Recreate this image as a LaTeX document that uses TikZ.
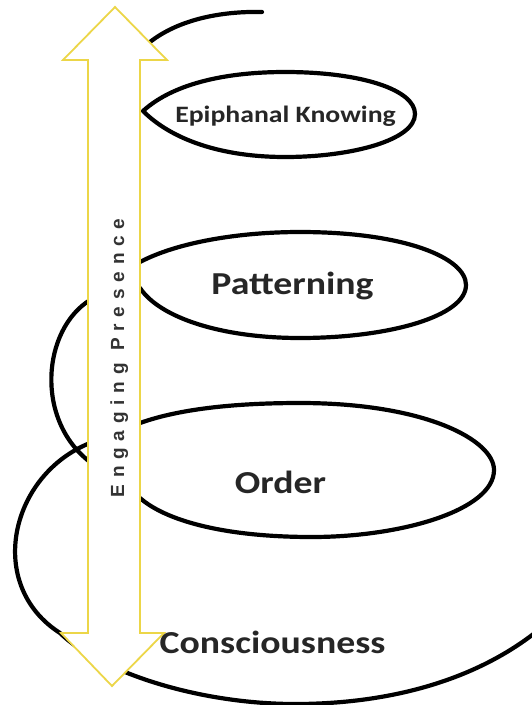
\documentclass[tikz,border=0pt]{standalone}
\usepackage{fontspec}
\newfontfamily\labfont[FakeStretch=1.18]{Carlito}
\newfontfamily\arrfont[LetterSpace=36]{Liberation Sans}
\definecolor{arrowyellow}{RGB}{236,214,72}
\tikzset{
  spiral/.style={draw=black,line width=4.2pt,line cap=round},
  bigarrow/.style={draw=arrowyellow,fill=white,line width=1.8pt,line join=miter},
  biglabel/.style={anchor=base,inner sep=0pt,font=\labfont\bfseries\fontsize{32}{32}\selectfont,text=black!85},
  smalllabel/.style={anchor=base,inner sep=0pt,font=\labfont\bfseries\fontsize{23.5}{23.5}\selectfont,text=black!85},
  arrowlabel/.style={anchor=base,inner sep=0pt,rotate=90,font=\arrfont\bfseries\fontsize{19}{19}\selectfont,text=black!80}
}
\begin{document}
\begin{tikzpicture}[x=1pt,y=-1pt]
\useasboundingbox (0,0) rectangle (531,705);
% top arc
\draw[spiral] (150,42) .. controls (178,20) and (220,11) .. (262,12);
% Epiphanal lens
\draw[spiral] (143,111) .. controls (175,82) and (230,72) .. (285,72)
  .. controls (362,72) and (415,90) .. (415,114)
  .. controls (415,140) and (352,157) .. (285,157)
  .. controls (222,157) and (172,140) .. (143,111);
% Patterning
\draw[spiral] (140,262) .. controls (178,242) and (240,232) .. (300,232)
  .. controls (405,232) and (466,258) .. (466,285)
  .. controls (466,316) and (390,338) .. (300,338)
  .. controls (222,338) and (160,318) .. (140,288);
% Order
\draw[spiral] (140,423) .. controls (182,408) and (240,403) .. (300,403)
  .. controls (425,403) and (494,440) .. (494,470)
  .. controls (494,510) and (402,537) .. (312,537)
  .. controls (222,537) and (165,520) .. (140,498);
% left loop
\draw[spiral] (90,300) .. controls (42,330) and (35,420) .. (90,462);
% big bottom loop
\draw[spiral] (90,443) .. controls (10,475) and (-15,585) .. (60,633)
  .. controls (100,672) and (200,705) .. (300,704)
  .. controls (400,703) and (480,676) .. (536,632);
% double arrow
\draw[bigarrow] (115,7) -- (167,60) -- (140,60) -- (140,633) -- (164,633)
  -- (112,686) -- (61,633) -- (88,633) -- (88,60) -- (63,60) -- cycle;
% labels
\node[arrowlabel] (ep) at (124,358) {Engaging Presence};
\node[smalllabel] (ek) at (285.5,122) {Epiphanal Knowing};
\node[biglabel] (pa) at (292.5,294) {Patterning};
\node[biglabel] (or) at (280.5,493) {Order};
\node[biglabel] (co) at (272.5,653) {Consciousness};
\end{tikzpicture}
\end{document}
